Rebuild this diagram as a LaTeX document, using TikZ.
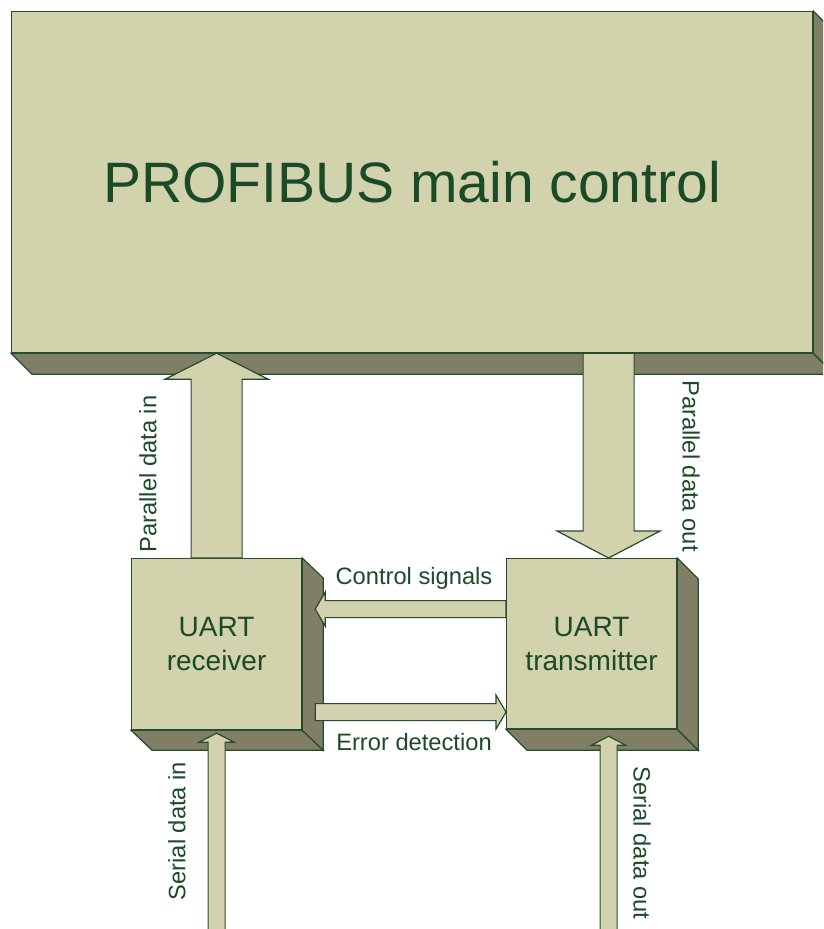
\documentclass[tikz,border=0pt]{standalone}
\usepackage{fontspec}
\setmainfont{Liberation Sans}
\usetikzlibrary{calc}

\definecolor{facecol}{RGB}{210,210,172}
\definecolor{depthcol}{RGB}{128,127,102}
\definecolor{edgecol}{RGB}{36,76,46}
\definecolor{textcol}{RGB}{26,74,40}

\tikzset{
  face/.style={draw=edgecol, fill=facecol, line width=1.2pt, inner sep=0pt,
    anchor=north west, text=textcol, align=center},
  depthface/.style={draw=edgecol, fill=depthcol, line width=1.2pt, line join=miter},
  arrowbody/.style={draw=edgecol, fill=facecol, line width=1.2pt, line join=miter},
  lbl/.style={text=textcol, font=\fontsize{23.7}{28}\selectfont, inner sep=0pt},
}

% shaded bottom and right faces of a block
\newcommand\boxdepth[3]{%
  \draw[depthface] (#1.south west) -- (#1.south east) -- ++(#2,#3)
    -- ($(#1.south west)+(#2,#3)$) -- cycle;
  \draw[depthface] (#1.north east) -- ++(#2,#3) -- ($(#1.south east)+(#2,#3)$)
    -- (#1.south east) -- cycle;
}

% wide block arrow: {from}{to}{shaft half width}{head half width}{head length}
\newcommand\blockarrow[5]{%
  \coordinate (ba-s) at (#1);
  \coordinate (ba-t) at (#2);
  \coordinate (ba-h) at ($(ba-t)!#5!(ba-s)$);
  \draw[arrowbody] ($(ba-s)!#3!90:(ba-t)$) -- ($(ba-h)!#3!90:(ba-t)$)
    -- ($(ba-h)!#4!90:(ba-t)$) -- (ba-t) -- ($(ba-h)!#4!-90:(ba-t)$)
    -- ($(ba-h)!#3!-90:(ba-t)$) -- ($(ba-s)!#3!-90:(ba-t)$) -- cycle;
}

\begin{document}
\begin{tikzpicture}[x=1pt, y=-1pt]
  \useasboundingbox (0,0) rectangle (823,929);
  \clip (0,0) rectangle (823,929);

  % main controller block
  \node[face, minimum width=801pt, minimum height=341pt,
        font=\fontsize{57}{60}\selectfont] (main) at (11,11) {PROFIBUS main control};
  \boxdepth{main}{21}{21}

  % UART blocks
  \node[face, minimum width=170pt, minimum height=171pt,
        font=\fontsize{28}{34}\selectfont] (rx) at (131,558) {UART\\receiver};
  \boxdepth{rx}{21}{20}
  \node[face, minimum width=170pt, minimum height=170pt,
        font=\fontsize{28}{34}\selectfont] (tx) at (506,558) {UART\\transmitter};
  \boxdepth{tx}{21}{21}

  % helper points
  \coordinate (pout) at ($(tx.north)+(17,0)$);
  \coordinate (ctl) at ($(tx.west)+(0,-34.5)$);
  \coordinate (ctltip) at ($(ctl -| rx.east)+(13,0)$);
  \coordinate (err) at ($(tx.west)+(0,68.5)$);
  \coordinate (errsrc) at ($(err -| rx.east)+(13,0)$);
  \coordinate (bottomedge) at (0,935);
  \coordinate (sin) at ($(rx.south)+(0,3)$);
  \coordinate (sout) at ($(tx.south)+(17,7)$);

  % data paths
  \blockarrow{rx.north}{rx.north |- main.south}{25.5pt}{51.5pt}{26pt}
  \blockarrow{pout |- main.south}{pout}{25.5pt}{51.5pt}{27pt}
  \blockarrow{ctl}{ctltip}{8.5pt}{17pt}{10pt}
  \blockarrow{errsrc}{err}{8.5pt}{17pt}{10pt}
  \blockarrow{sin |- bottomedge}{sin}{8.5pt}{17.5pt}{9pt}
  \blockarrow{sout |- bottomedge}{sout}{8.5pt}{17pt}{9pt}

  % signal labels
  \node[lbl, rotate=90] (lpin) at (148,474) {Parallel data in};
  \node[lbl, rotate=-90] (lpout) at (691,466) {Parallel data out};
  \node[lbl] (lctl) at (414,578) {Control signals};
  \node[lbl] (lerr) at (414,742) {Error detection};
  \node[lbl, rotate=90] (lsin) at (177,831) {Serial data in};
  \node[lbl, rotate=-90] (lsout) at (642,843) {Serial data out};
\end{tikzpicture}
\end{document}
